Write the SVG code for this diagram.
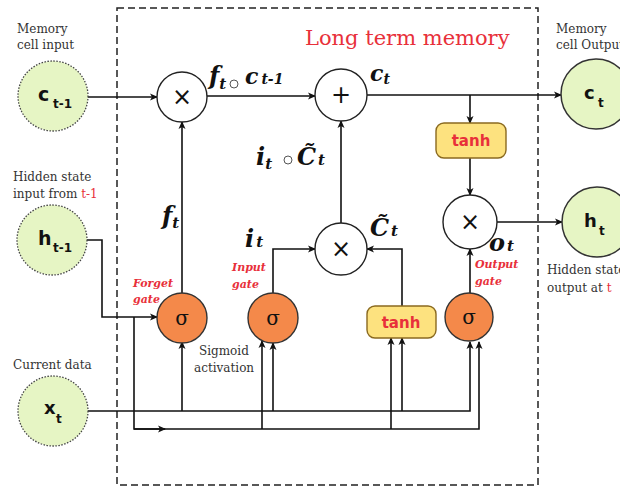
<svg xmlns="http://www.w3.org/2000/svg" width="620" height="487" viewBox="0 0 620 487">
<style>
.lbl{font-family:"DejaVu Serif","Liberation Serif",serif;font-size:12px;fill:#333}
.red{fill:#e8303a}
.gate{font-family:"DejaVu Serif","Liberation Serif",serif;font-size:11px;font-weight:bold;font-style:italic;fill:#e8303a}
.math{font-family:"DejaVu Serif","Liberation Serif",serif;font-weight:bold;font-style:italic;fill:#111}
.node{font-family:"DejaVu Sans","Liberation Sans",sans-serif;font-weight:bold;fill:#111}
.in{fill:#e6f5c4;stroke:#444;stroke-width:1.3;stroke-dasharray:1.5 1.5}
.out{fill:#e6f5c4;stroke:#333;stroke-width:1.5}
.op{fill:#fff;stroke:#222;stroke-width:1.4}
.sig{fill:#f4894a;stroke:#333;stroke-width:1.4}
.tanh{fill:#fde27f;stroke:#8a6a20;stroke-width:1.4}
.ttxt{font-family:"DejaVu Sans","Liberation Sans",sans-serif;font-weight:bold;font-size:15px;fill:#e8303a}
.sym{font-family:"DejaVu Sans","Liberation Sans",sans-serif;font-size:24px;fill:#111}
.sg{font-family:"DejaVu Serif","Liberation Serif",serif;font-size:20px;fill:#111}
.ln{fill:none;stroke:#111;stroke-width:1.6}
</style>
<defs>
<marker id="ah" markerWidth="8" markerHeight="8" refX="7" refY="4" orient="auto" markerUnits="userSpaceOnUse">
<path d="M0,0.5 L8,4 L0,7.5 L2,4 Z" fill="#111"/>
</marker>
</defs>
<rect width="620" height="487" fill="#fff"/>
<rect x="117" y="8" width="421" height="477" fill="none" stroke="#222" stroke-width="1.5" stroke-dasharray="7 4"/>
<text x="305" y="45" font-family="DejaVu Serif,Liberation Serif,serif" font-size="21" fill="#e8303a">Long term memory</text>

<g id="connectors">
<path class="ln" d="M88,97 H157" marker-end="url(#ah)"/>
<path class="ln" d="M207,96 H315" marker-end="url(#ah)"/>
<path class="ln" d="M367,95 H561" marker-end="url(#ah)"/>
<path class="ln" d="M470,95 V123" marker-end="url(#ah)"/>
<path class="ln" d="M470,158 V195" marker-end="url(#ah)"/>
<path class="ln" d="M497,222 H562" marker-end="url(#ah)"/>
<path class="ln" d="M182,293 V122" marker-end="url(#ah)"/>
<path class="ln" d="M341,223 V121" marker-end="url(#ah)"/>
<path class="ln" d="M273,293 V249 H315" marker-end="url(#ah)"/>
<path class="ln" d="M402,306 V249 H367" marker-end="url(#ah)"/>
<path class="ln" d="M470,293 V249" marker-end="url(#ah)"/>
<path class="ln" d="M87,240 H102 V317 H157" marker-end="url(#ah)"/>
<path class="ln" d="M134,317 V429 H479 V342" marker-end="url(#ah)"/>
<path class="ln" d="M134,429 H165" marker-end="url(#ah)"/>
<path class="ln" d="M88,411 H470 V342" marker-end="url(#ah)"/>
<path class="ln" d="M182,411 V342" marker-end="url(#ah)"/>
<path class="ln" d="M262,429 V341" marker-end="url(#ah)"/>
<path class="ln" d="M273,411 V343" marker-end="url(#ah)"/>
<path class="ln" d="M391,429 V338" marker-end="url(#ah)"/>
<path class="ln" d="M402,411 V338" marker-end="url(#ah)"/>
</g>

<g id="c_prev">
<circle class="in" cx="53" cy="96" r="35"/>
<text class="node" x="38" y="101" font-size="19">c</text>
<text class="node" x="53" y="108" font-size="12">t-1</text>
<text class="lbl" x="17" y="33">Memory</text>
<text class="lbl" x="17" y="49">cell input</text>
</g>
<g id="h_prev">
<circle class="in" cx="52" cy="240" r="35"/>
<text class="node" x="38" y="245" font-size="19">h</text>
<text class="node" x="53" y="252" font-size="12">t-1</text>
<text class="lbl" x="13" y="181">Hidden state</text>
<text class="lbl" x="13" y="198">input from <tspan class="red">t-1</tspan></text>
</g>
<g id="x_t">
<circle class="in" cx="53" cy="411" r="35"/>
<text class="node" x="44" y="414" font-size="18">x</text>
<text class="node" x="56" y="423" font-size="12">t</text>
<text class="lbl" x="13" y="369">Current data</text>
</g>
<g id="c_out">
<circle class="out" cx="596" cy="94" r="35"/>
<text class="node" x="584" y="99" font-size="18">c</text>
<text class="node" x="598" y="107" font-size="12">t</text>
<text class="lbl" x="556" y="33">Memory</text>
<text class="lbl" x="556" y="49">cell Output</text>
</g>
<g id="h_out">
<circle class="out" cx="597" cy="222" r="35"/>
<text class="node" x="584" y="227" font-size="18">h</text>
<text class="node" x="599" y="235" font-size="12">t</text>
<text class="lbl" x="547" y="274">Hidden state</text>
<text class="lbl" x="547" y="292">output at <tspan class="red">t</tspan></text>
</g>

<g id="mul_forget">
<circle class="op" cx="182" cy="97" r="25"/>
<text class="sym" x="182" y="105" text-anchor="middle">×</text>
</g>
<g id="add">
<circle class="op" cx="341" cy="95" r="26"/>
<text class="sym" x="341" y="103" text-anchor="middle">+</text>
</g>
<g id="mul_input">
<circle class="op" cx="341" cy="249" r="26"/>
<text class="sym" x="341" y="257" text-anchor="middle">×</text>
</g>
<g id="mul_output">
<circle class="op" cx="470" cy="222" r="27"/>
<text class="sym" x="470" y="230" text-anchor="middle">×</text>
</g>
<g id="tanh_top">
<rect class="tanh" x="436" y="123" width="70" height="35" rx="8"/>
<text class="ttxt" x="471" y="146" text-anchor="middle">tanh</text>
</g>
<g id="tanh_mid">
<rect class="tanh" x="367" y="306" width="69" height="32" rx="8"/>
<text class="ttxt" x="401" y="328" text-anchor="middle">tanh</text>
</g>
<g id="sig_forget">
<circle class="sig" cx="182" cy="318" r="25"/>
<text class="sg" x="182" y="325" text-anchor="middle">σ</text>
<text class="gate" x="133" y="287">Forget</text>
<text class="gate" x="133" y="303">gate</text>
</g>
<g id="sig_input">
<circle class="sig" cx="273" cy="318" r="25"/>
<text class="sg" x="273" y="325" text-anchor="middle">σ</text>
<text class="gate" x="232" y="271">Input</text>
<text class="gate" x="232" y="288">gate</text>
</g>
<g id="sig_output">
<circle class="sig" cx="469" cy="317" r="24"/>
<text class="sg" x="469" y="324" text-anchor="middle">σ</text>
<text class="gate" x="475" y="268">Output</text>
<text class="gate" x="475" y="285">gate</text>
</g>
<g id="sigmoid_label">
<text class="lbl" x="199" y="355">Sigmoid</text>
<text class="lbl" x="194" y="372">activation</text>
</g>

<g id="math">
<text class="math" x="209" y="84" font-size="24">f<tspan font-size="15" dy="5">t</tspan></text>
<circle cx="234" cy="84" r="4" fill="none" stroke="#555" stroke-width="1"/>
<text class="math" x="245" y="84" font-size="22">c<tspan font-size="14" dx="3">t-1</tspan></text>
<text class="math" x="370" y="81" font-size="22">c<tspan font-size="14" dy="3">t</tspan></text>
<text class="math" x="256" y="165" font-size="24">i<tspan font-size="15" dy="4">t</tspan></text>
<circle cx="288" cy="160" r="4" fill="none" stroke="#555" stroke-width="1"/>
<text class="math" x="297" y="165" font-size="24">C̃<tspan font-size="15" dx="2">t</tspan></text>
<text class="math" x="162" y="224" font-size="24">f<tspan font-size="15" dy="4">t</tspan></text>
<text class="math" x="245" y="247" font-size="24">i<tspan font-size="15" dx="2">t</tspan></text>
<text class="math" x="370" y="236" font-size="24">C̃<tspan font-size="15" dx="2">t</tspan></text>
<text class="math" x="489" y="251" font-size="24">o<tspan font-size="15" dx="2">t</tspan></text>
</g>
</svg>
